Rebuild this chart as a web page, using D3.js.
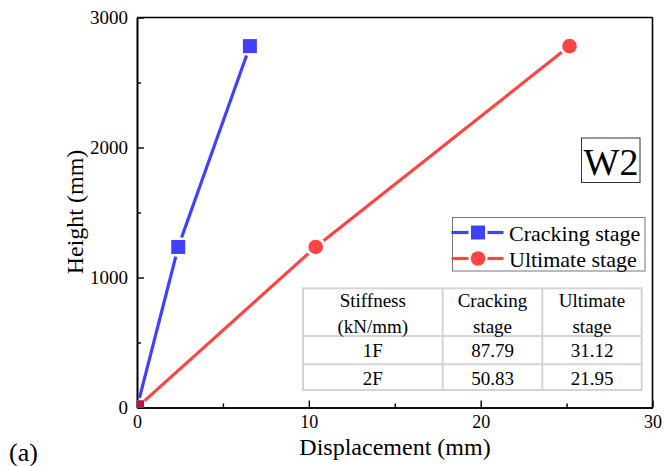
<!DOCTYPE html>
<html><head><meta charset="utf-8">
<script src="https://cdn.jsdelivr.net/npm/d3@7"></script>
<style>
body{margin:0;background:#fff;}
svg text{font-family:"Liberation Serif","Times New Roman",serif !important;fill:#000;}
</style></head>
<body><svg id="c" width="664" height="466" font-family="Liberation Serif"></svg>
<script>
// ---- data ----
const crackDisp = [0, 2.4, 6.57];
const crackHeight = [0, 1235, 2780];
const ultDisp = [0, 10.4, 25.17];
const ultHeight = [0, 1235, 2780];
const xTicks = [0, 10, 20, 30];
const yTicks = [0, 1000, 2000, 3000];
const seriesNames = ["Cracking stage", "Ultimate stage"];
const tableHeader = [["Stiffness", "(kN/mm)"], ["Cracking", "stage"], ["Ultimate", "stage"]];
const tableRows = [["1F", "87.79", "31.12"], ["2F", "50.83", "21.95"]];
const panelLabel = "W2";

const svg = d3.select("#c");
const L = 137, R = 652.5, T = 17.5, B = 407.5;
const x = d3.scaleLinear().domain([0, 30]).range([L, R]);
const y = d3.scaleLinear().domain([0, 3000]).range([B, T]);
const blue = "#4040ff", red = "#ff4444";
const FONT = "Liberation Serif";

svg.append("defs").append("clipPath").attr("id", "clip")
  .append("rect").attr("x", L).attr("y", T).attr("width", R - L).attr("height", B - T);

// axes
const fmt = d3.format("d");
const xAxis = d3.axisBottom(x).tickValues(xTicks).tickFormat(fmt).tickSizeInner(-7).tickSizeOuter(0).tickPadding(8);
const gx = svg.append("g").attr("transform", `translate(0,${B})`).call(xAxis);
const xMinor = d3.axisBottom(x).tickValues([5, 15, 25]).tickSizeInner(-4).tickSizeOuter(0).tickFormat("");
const gxm = svg.append("g").attr("transform", `translate(0,${B})`).call(xMinor);
const yAxis = d3.axisLeft(y).tickValues(yTicks).tickFormat(fmt).tickSizeInner(-7).tickSizeOuter(0).tickPadding(9);
const gy = svg.append("g").attr("transform", `translate(${L},0)`).call(yAxis);
const yMinor = d3.axisLeft(y).tickValues([500, 1500, 2500]).tickSizeInner(-4).tickSizeOuter(0).tickFormat("");
const gym = svg.append("g").attr("transform", `translate(${L},0)`).call(yMinor);
[gx, gxm, gy, gym].forEach(g => {
  g.attr("font-family", FONT).attr("font-size", 19);
  g.select(".domain").attr("stroke", "#000").attr("stroke-width", 1.6);
  g.selectAll(".tick line").attr("stroke", "#000").attr("stroke-width", 1.4);
  g.selectAll(".tick text").attr("font-family", FONT).attr("font-size", 19).attr("fill", "#000");
});
gx.selectAll(".tick text").attr("dy", "0.71em").attr("font-size", 18);
// frame top/right
svg.append("line").attr("x1", L).attr("x2", R).attr("y1", T).attr("y2", T).attr("stroke", "#000").attr("stroke-width", 1.6);
svg.append("line").attr("x1", R).attr("x2", R).attr("y1", T).attr("y2", B).attr("stroke", "#000").attr("stroke-width", 1.6);

// axis titles
svg.append("text").attr("x", 395).attr("y", 455).attr("text-anchor", "middle")
  .attr("font-family", FONT).attr("font-size", 24).text("Displacement (mm)");
svg.append("text").attr("transform", "translate(83,212) rotate(-90)").attr("text-anchor", "middle")
  .attr("font-family", FONT).attr("font-size", 24).text("Height (mm)");
svg.append("text").attr("x", 9).attr("y", 461).attr("font-family", FONT).attr("font-size", 26).text("(a)");

// series
const plot = svg.append("g").attr("clip-path", "url(#clip)");
function drawSeries(xs, ys, color, shape) {
  const pts = xs.map((d, i) => [x(d), y(ys[i])]);
  const gap = 10;
  for (let i = 0; i < pts.length - 1; i++) {
    const [x1, y1] = pts[i], [x2, y2] = pts[i + 1];
    const len = Math.hypot(x2 - x1, y2 - y1);
    const ux = (x2 - x1) / len, uy = (y2 - y1) / len;
    plot.append("line")
      .attr("x1", x1 + ux * gap).attr("y1", y1 + uy * gap)
      .attr("x2", x2 - ux * gap).attr("y2", y2 - uy * gap)
      .attr("stroke", color).attr("stroke-width", 3.2);
  }
  pts.forEach(([px, py]) => {
    if (shape === "square") {
      plot.append("rect").attr("x", px - 7).attr("y", py - 7).attr("width", 14).attr("height", 14).attr("fill", color);
    } else {
      plot.append("circle").attr("cx", px).attr("cy", py).attr("r", 7.3).attr("fill", color);
    }
  });
}
drawSeries(crackDisp, crackHeight, blue, "square");
drawSeries(ultDisp, ultHeight, red, "circle");
// origin overlap tint
plot.append("rect").attr("x", x(0)).attr("y", y(0) - 7).attr("width", 7).attr("height", 7).attr("fill", "#c0143c");

// W2 label
svg.append("rect").attr("x", 581.5).attr("y", 138).attr("width", 58.5).attr("height", 44.5)
  .attr("fill", "#fff").attr("stroke", "#333").attr("stroke-width", 1);
svg.append("text").attr("x", 611).attr("y", 175).attr("text-anchor", "middle")
  .attr("font-family", FONT).attr("font-size", 38).text(panelLabel);

// legend
svg.append("rect").attr("x", 452.5).attr("y", 217.5).attr("width", 192.5).attr("height", 53.5)
  .attr("fill", "#fff").attr("stroke", "#777").attr("stroke-width", 1);
const legRows = [232.5, 258.5];
[[blue, "square"], [red, "circle"]].forEach(([c, s], i) => {
  const ly = legRows[i];
  svg.append("line").attr("x1", 451.5).attr("x2", 468.5).attr("y1", ly).attr("y2", ly).attr("stroke", c).attr("stroke-width", 3.2);
  svg.append("line").attr("x1", 487.5).attr("x2", 503.5).attr("y1", ly).attr("y2", ly).attr("stroke", c).attr("stroke-width", 3.2);
  if (s === "square") svg.append("rect").attr("x", 471).attr("y", ly - 7).attr("width", 14).attr("height", 14).attr("fill", c);
  else svg.append("circle").attr("cx", 478).attr("cy", ly).attr("r", 7.3).attr("fill", c);
  svg.append("text").attr("x", 509).attr("y", ly + 8).attr("font-family", FONT).attr("font-size", 22).text(seriesNames[i]);
});

// table
const tx = [303, 442.7, 542.3, 641.7];
const ty = [288.3, 336, 364.3, 390];
const tg = svg.append("g");
tg.append("rect").attr("x", tx[0]).attr("y", ty[0]).attr("width", tx[3] - tx[0]).attr("height", ty[3] - ty[0])
  .attr("fill", "#fff").attr("stroke", "#d4d4d4").attr("stroke-width", 2);
[tx[1], tx[2]].forEach(v => tg.append("line").attr("x1", v).attr("x2", v).attr("y1", ty[0]).attr("y2", ty[3]).attr("stroke", "#d4d4d4").attr("stroke-width", 2));
[ty[1], ty[2]].forEach(v => tg.append("line").attr("x1", tx[0]).attr("x2", tx[3]).attr("y1", v).attr("y2", v).attr("stroke", "#d4d4d4").attr("stroke-width", 2));
const cx = [0, 1, 2].map(i => (tx[i] + tx[i + 1]) / 2);
tableHeader.forEach((lines, i) => {
  lines.forEach((t, j) => tg.append("text").attr("x", cx[i]).attr("y", j === 0 ? 306.5 : 332.5)
    .attr("text-anchor", "middle").attr("font-family", FONT).attr("font-size", 19).text(t));
});
const rowBase = [357, 385];
tableRows.forEach((row, r) => row.forEach((t, i) => tg.append("text").attr("x", cx[i]).attr("y", rowBase[r])
  .attr("text-anchor", "middle").attr("font-family", FONT).attr("font-size", 19).text(t)));
</script></body></html>
